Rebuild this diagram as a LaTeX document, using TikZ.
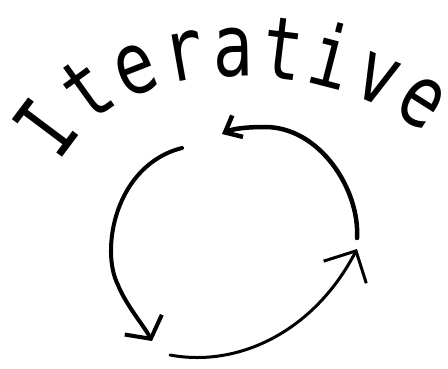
\documentclass[tikz,border=0pt]{standalone}
\usepackage{fontspec}
\newfontfamily\handfont[FakeStretch=0.78]{DejaVu Sans Mono}
\usetikzlibrary{arrows.meta,decorations.text}
\begin{document}
\begin{tikzpicture}[x=1pt,y=-1pt,
  loopline/.style={black, line cap=round, line join=round},
  titletext/.style={decorate, decoration={text along path,
      text={|\handfont\fontsize{86}{86}\selectfont|Iterative},
      text align=fit to path}}
]
\useasboundingbox (0,0) rectangle (448,369);
% title along a curved baseline
\coordinate (ts) at (60,163);
\coordinate (te) at (425,134);
\path[titletext] (ts) .. controls (126,44) and (330,60) .. (te);
% cycle arrows
\coordinate (a1s) at (357,238);
\coordinate (a1e) at (222,134);
\coordinate (a2s) at (182,148);
\coordinate (a2e) at (152,341);
\coordinate (a3s) at (170,355);
\coordinate (a3e) at (357,249);
\draw[loopline, line width=4.5pt, -{Straight Barb[length=14pt,width=24pt]}]
  (a1s) .. controls (360,190) and (320,127) .. (265,127)
        .. controls (245,127) and (232,129) .. (a1e);
\draw[loopline, line width=4pt, -{Straight Barb[length=16pt,width=42pt]}]
  (a2s) .. controls (115,165) and (100,250) .. (118,285)
        .. controls (126,305) and (144,326) .. (a2e);
\draw[loopline, line width=3pt, -{Straight Barb[length=24pt,width=48pt]}]
  (a3s) .. controls (240,368) and (315,330) .. (a3e);
\end{tikzpicture}
\end{document}
